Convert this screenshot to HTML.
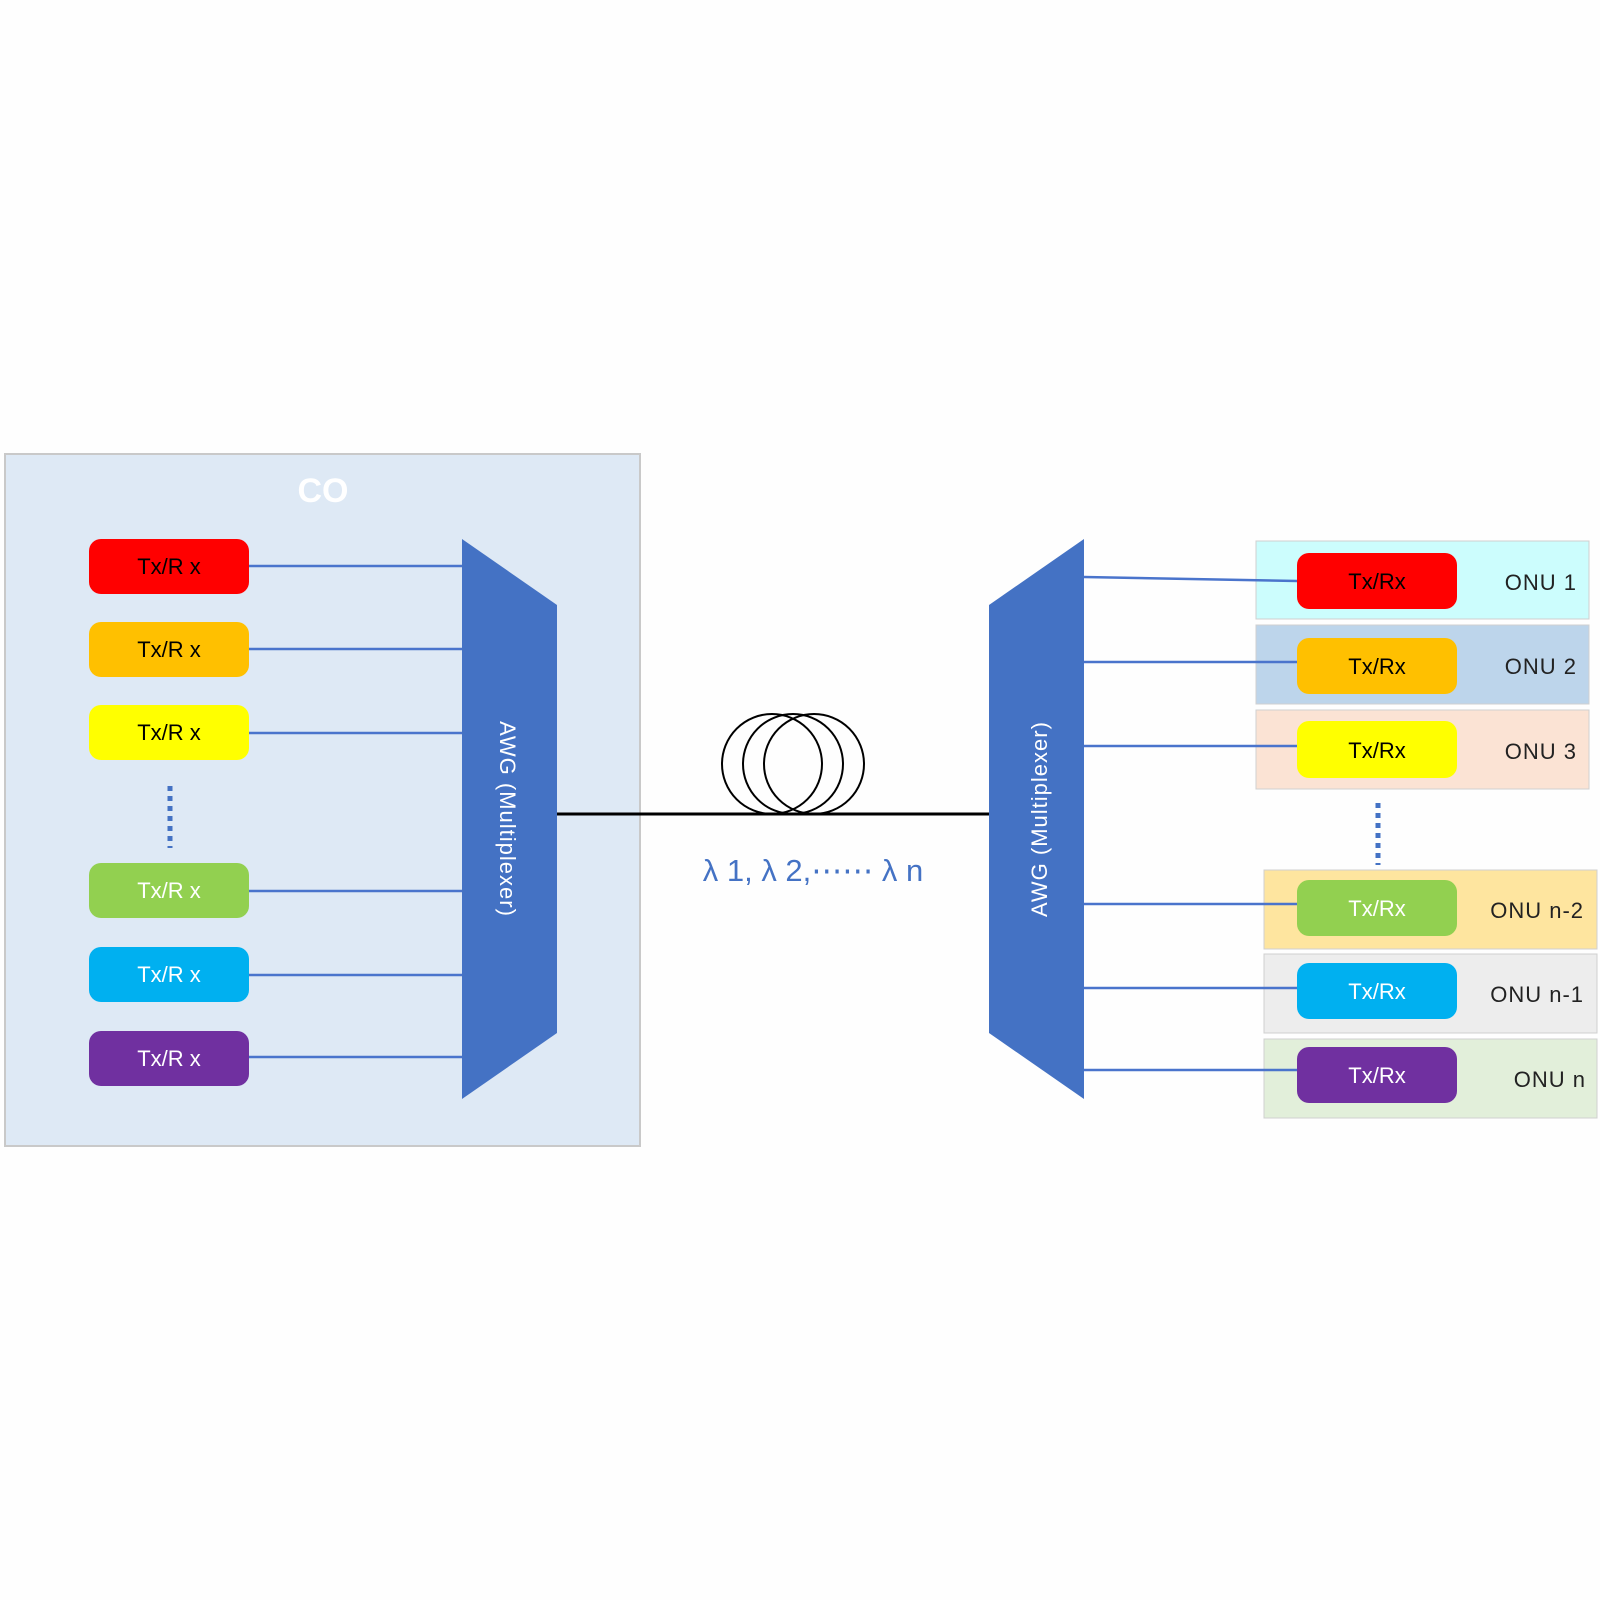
<!DOCTYPE html>
<html><head><style>
body{margin:0;background:#fefefe;}
svg{display:block}
text{font-family:"Liberation Sans",sans-serif;}
</style></head><body>
<svg width="1600" height="1600" viewBox="0 0 1600 1600">
<rect x="0" y="0" width="1600" height="1600" fill="#fefefe"/>
<rect x="5" y="454" width="635" height="692" fill="#dee9f5" stroke="#c9c9c9" stroke-width="2"/>
<text x="323" y="502" font-size="34" font-weight="bold" fill="#fff" text-anchor="middle">CO</text>
<!-- left lines -->
<g stroke="#4a74cc" stroke-width="2.5">
<line x1="249" y1="566" x2="462" y2="566"/>
<line x1="249" y1="649" x2="462" y2="649"/>
<line x1="249" y1="733" x2="462" y2="733"/>
<line x1="249" y1="891" x2="462" y2="891"/>
<line x1="249" y1="975" x2="462" y2="975"/>
<line x1="249" y1="1057" x2="462" y2="1057"/>
</g>
<line x1="170" y1="786" x2="170" y2="848" stroke="#4472c4" stroke-width="5" stroke-dasharray="5,5"/>
<g font-size="22" text-anchor="middle">
<rect x="89" y="539" width="160" height="55" rx="12" fill="#ff0000"/><text x="169" y="574" fill="#000">Tx/R x</text>
<rect x="89" y="622" width="160" height="55" rx="12" fill="#ffc000"/><text x="169" y="657" fill="#000">Tx/R x</text>
<rect x="89" y="705" width="160" height="55" rx="12" fill="#ffff00"/><text x="169" y="740" fill="#000">Tx/R x</text>
<rect x="89" y="863" width="160" height="55" rx="12" fill="#92d050"/><text x="169" y="898" fill="#fff">Tx/R x</text>
<rect x="89" y="947" width="160" height="55" rx="12" fill="#00b0f0"/><text x="169" y="982" fill="#fff">Tx/R x</text>
<rect x="89" y="1031" width="160" height="55" rx="12" fill="#7030a0"/><text x="169" y="1066" fill="#fff">Tx/R x</text>
</g>
<polygon points="462,539 557,605 557,1033 462,1099" fill="#4472c4"/>
<text transform="translate(500,819) rotate(90)" font-size="22" fill="#fff" text-anchor="middle" letter-spacing="1">AWG (Multiplexer)</text>
<!-- fiber -->
<line x1="557" y1="814" x2="989" y2="814" stroke="#000" stroke-width="3"/>
<g fill="none" stroke="#000" stroke-width="2">
<ellipse cx="772" cy="764" rx="50" ry="50"/>
<ellipse cx="793" cy="764" rx="50" ry="50"/>
<ellipse cx="814" cy="764" rx="50" ry="50"/>
</g>
<text x="813" y="881" font-size="31" fill="#4472c4" text-anchor="middle">λ 1, λ 2,⋯⋯ λ n</text>
<!-- right -->
<rect x="1256" y="541" width="333" height="78" fill="#ccfdfd" stroke="#d0d0d0"/>
<rect x="1256" y="625" width="333" height="79" fill="#bdd5eb" stroke="#d0d0d0"/>
<rect x="1256" y="710" width="333" height="79" fill="#fbe3d4" stroke="#d0d0d0"/>
<rect x="1264" y="870" width="333" height="79" fill="#fee59f" stroke="#d0d0d0"/>
<rect x="1264" y="954" width="333" height="79" fill="#ededed" stroke="#d0d0d0"/>
<rect x="1264" y="1039" width="333" height="79" fill="#e2efda" stroke="#d0d0d0"/>
<polygon points="1084,539 989,605 989,1033 1084,1099" fill="#4472c4"/>
<text transform="translate(1047,819) rotate(-90)" font-size="22" fill="#fff" text-anchor="middle" letter-spacing="1">AWG (Multiplexer)</text>
<g stroke="#4a74cc" stroke-width="2.5">
<line x1="1084" y1="577" x2="1297" y2="581"/>
<line x1="1084" y1="662" x2="1297" y2="662"/>
<line x1="1084" y1="746" x2="1297" y2="746"/>
<line x1="1084" y1="904" x2="1297" y2="904"/>
<line x1="1084" y1="988" x2="1297" y2="988"/>
<line x1="1084" y1="1070" x2="1297" y2="1070"/>
</g>
<line x1="1378" y1="803" x2="1378" y2="865" stroke="#4472c4" stroke-width="5" stroke-dasharray="5,5"/>
<g font-size="22" text-anchor="middle">
<rect x="1297" y="553" width="160" height="56" rx="12" fill="#ff0000"/><text x="1377" y="589" fill="#000">Tx/Rx</text>
<rect x="1297" y="638" width="160" height="56" rx="12" fill="#ffc000"/><text x="1377" y="674" fill="#000">Tx/Rx</text>
<rect x="1297" y="721" width="160" height="57" rx="12" fill="#ffff00"/><text x="1377" y="758" fill="#000">Tx/Rx</text>
<rect x="1297" y="880" width="160" height="56" rx="12" fill="#92d050"/><text x="1377" y="916" fill="#fff">Tx/Rx</text>
<rect x="1297" y="963" width="160" height="56" rx="12" fill="#00b0f0"/><text x="1377" y="999" fill="#fff">Tx/Rx</text>
<rect x="1297" y="1047" width="160" height="56" rx="12" fill="#7030a0"/><text x="1377" y="1083" fill="#fff">Tx/Rx</text>
</g>
<g font-size="22" fill="#222" text-anchor="end" letter-spacing="1">
<text x="1577" y="590">ONU 1</text>
<text x="1577" y="674">ONU 2</text>
<text x="1577" y="759">ONU 3</text>
<text x="1584" y="918">ONU n-2</text>
<text x="1584" y="1002">ONU n-1</text>
<text x="1586" y="1087">ONU n</text>
</g>
</svg>
</body></html>
